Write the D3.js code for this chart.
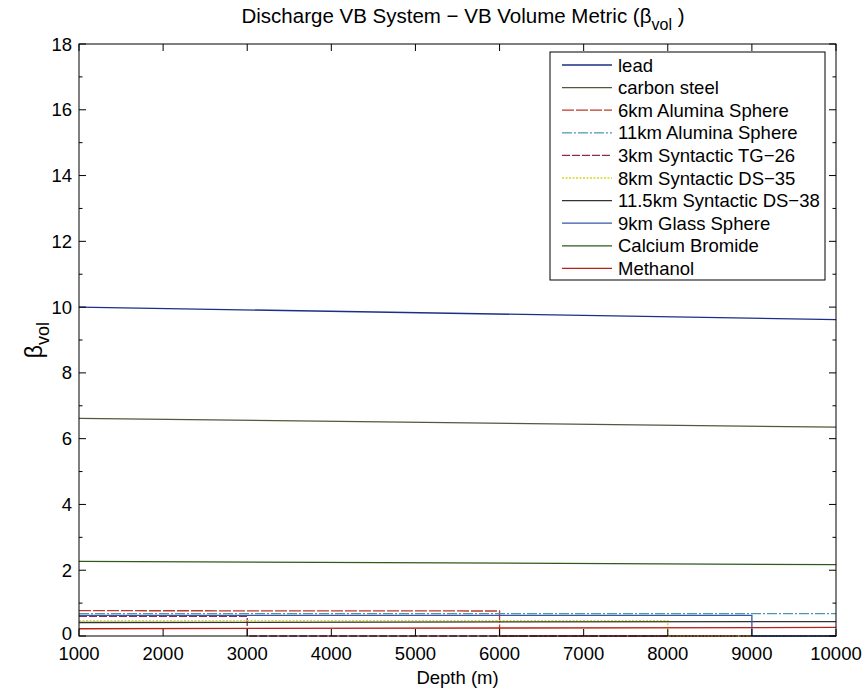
<!DOCTYPE html>
<html><head><meta charset="utf-8">
<script src="https://cdn.jsdelivr.net/npm/d3@7"></script>
<style>body{margin:0;background:#fff;} svg{font-family:"Liberation Sans",Arial,Helvetica,sans-serif;}</style>
</head><body>
<svg id="c" width="865" height="694"></svg>
<script>
// ---- data ----
const xTicks = [1000,2000,3000,4000,5000,6000,7000,8000,9000,10000];
const yTicks = [0,2,4,6,8,10,12,14,16,18];
const yMinor = [1,3,5,7,9,11,13,15,17];
const seriesNames = ["lead","carbon steel","6km Alumina Sphere","11km Alumina Sphere","3km Syntactic TG\u221226","8km Syntactic DS\u221235","11.5km Syntactic DS\u221238","9km Glass Sphere","Calcium Bromide","Methanol"];
const lead        = [[1000,10.0],[10000,9.62]];
const carbonSteel = [[1000,6.62],[10000,6.35]];
const alumina6    = [[1000,0.77],[6000,0.76],[6000,0],[10000,0]];
const alumina11   = [[1000,0.68],[10000,0.68]];
const tg26        = [[1000,0.60],[3000,0.60],[3000,0],[10000,0]];
const ds35        = [[1000,0.47],[8000,0.47],[8000,0],[10000,0]];
const ds38        = [[1000,0.41],[10000,0.44]];
const glass       = [[1000,0.63],[9000,0.63],[9000,0],[10000,0]];
const caBr        = [[1000,2.27],[10000,2.17]];
const methanol    = [[1000,0.22],[10000,0.26]];
const seriesData = [lead,carbonSteel,alumina6,alumina11,tg26,ds35,ds38,glass,caBr,methanol];
const colors = ["#1c2f86","#4f5a3a","#c0392b","#4a9aa6","#8e2a55","#d8d820","#333333","#3457a8","#2f5a1c","#b8201a"];
const dashes = [null,null,"12,2","10,2,2,2","8,2","2,1.5",null,null,null,null];

// ---- layout ----
const svg = d3.select("#c");
const L=79, R=836, T=44, B=636;
const x = d3.scaleLinear().domain([1000,10000]).range([L,R]);
const y = d3.scaleLinear().domain([0,18]).range([B,T]);

// lines
const line = d3.line().x(d=>x(d[0])).y(d=>y(d[1]));
seriesData.forEach((s,i)=>{
  svg.append("path").attr("d",line(s)).attr("fill","none")
    .attr("stroke",colors[i]).attr("stroke-width",1.3)
    .attr("stroke-dasharray",dashes[i]);
});

// axes (box, ticks inward on all sides)
const g = svg.append("g").attr("stroke","#000").attr("stroke-width",1);
g.append("rect").attr("x",L).attr("y",T).attr("width",R-L).attr("height",B-T).attr("fill","none");
const TL=7, TM=3.5;
xTicks.forEach(v=>{
  g.append("line").attr("x1",x(v)).attr("x2",x(v)).attr("y1",B).attr("y2",B-TL);
  g.append("line").attr("x1",x(v)).attr("x2",x(v)).attr("y1",T).attr("y2",T+TL);
});
yTicks.forEach(v=>{
  g.append("line").attr("x1",L).attr("x2",L+TL).attr("y1",y(v)).attr("y2",y(v));
  g.append("line").attr("x1",R).attr("x2",R-TL).attr("y1",y(v)).attr("y2",y(v));
});
yMinor.forEach(v=>{
  g.append("line").attr("x1",L).attr("x2",L+TM).attr("y1",y(v)).attr("y2",y(v));
  g.append("line").attr("x1",R).attr("x2",R-TM).attr("y1",y(v)).attr("y2",y(v));
});

// tick labels
svg.append("g").selectAll("text").data(xTicks).join("text")
  .attr("x",d=>x(d)).attr("y",B+24).attr("text-anchor","middle")
  .attr("font-size",18.5).text(d=>d);
svg.append("g").selectAll("text").data(yTicks).join("text")
  .attr("x",L-7).attr("y",d=>y(d)+(d===0?4:6.5)).attr("text-anchor","end")
  .attr("font-size",18.5).text(d=>d);

// axis labels
svg.append("text").attr("x",(L+R)/2).attr("y",684).attr("text-anchor","middle")
  .attr("font-size",18.5).text("Depth (m)");
const yl = svg.append("text").attr("transform","translate(42,"+((T+B)/2)+") rotate(-90)")
  .attr("text-anchor","middle").attr("font-size",23);
yl.append("tspan").text("\u03b2");
yl.append("tspan").attr("font-size",18).attr("dy",7).text("vol");

// title
const tt = svg.append("text").attr("x",463).attr("y",23).attr("text-anchor","middle").attr("font-size",20.5);
tt.append("tspan").text("Discharge VB System \u2212 VB Volume Metric (\u03b2");
tt.append("tspan").attr("font-size",16).attr("dy",7).text("vol");
tt.append("tspan").attr("dy",-7).text(" )");

// legend
const lg = svg.append("g");
const lx=550, ly=52, lw=275, lh=228, step=22.6;
lg.append("rect").attr("x",lx).attr("y",ly).attr("width",lw).attr("height",lh)
  .attr("fill","#fff").attr("stroke","#000").attr("stroke-width",1);
seriesNames.forEach((n,i)=>{
  const yy = ly+13+i*step;
  lg.append("line").attr("x1",lx+12).attr("x2",lx+62).attr("y1",yy).attr("y2",yy)
    .attr("stroke",colors[i]).attr("stroke-width",1.3).attr("stroke-dasharray",dashes[i]);
  lg.append("text").attr("x",lx+68).attr("y",yy+6.5).attr("font-size",18.5).text(n);
});
</script>
</body></html>
